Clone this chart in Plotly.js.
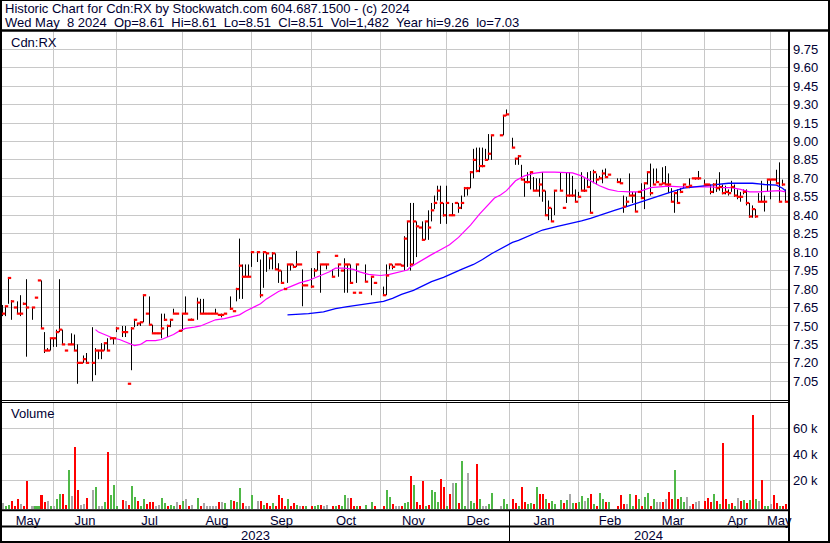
<!DOCTYPE html>
<html><head><meta charset="utf-8">
<script src="https://cdn.plot.ly/plotly-3.0.1.min.js"></script>
<style>html,body{margin:0;padding:0;background:#fff;}#chart{width:830px;height:543px;}</style>
</head><body><div id="chart"></div>
<script>
// ---------- DATA ----------
const startDate = '2023-05-09';
const endDate = '2024-05-08';
const monthNames = ['May','Jun','Jul','Aug','Sep','Oct','Nov','Dec','Jan','Feb','Mar','Apr','May'];
const yearLabels = ['2023','2024'];
const priceTickFirst = 7.05, priceTickLast = 9.75, priceTickStep = 0.15;
const volTicks = [20000, 40000, 60000];
const volTickText = ['20 k', '40 k', '60 k'];

const high = [
7.67,7.66,7.89,7.71,7.65,7.70,7.75,7.69,7.88,null,
7.65,7.73,7.87,7.87,7.45,7.32,7.40,7.40,7.47,7.88,
7.47,7.30,7.35,7.44,7.43,7.35,7.20,7.26,7.28,null,
7.49,7.32,7.30,7.36,7.36,7.40,7.40,7.40,7.49,null,
7.50,7.50,7.03,7.49,7.55,7.52,7.53,7.75,7.60,7.74,
7.51,7.44,7.44,7.60,7.60,7.51,7.55,7.64,7.60,7.46,
7.60,7.74,7.55,7.56,null,7.73,7.72,7.72,7.60,7.60,
7.60,7.64,7.59,7.60,7.60,null,7.74,7.62,7.81,8.21,
8.00,8.00,8.00,8.10,null,8.10,8.04,8.10,8.10,8.05,
8.10,8.09,8.01,7.95,7.81,8.00,8.00,8.00,8.11,8.00,
7.96,7.83,null,7.97,7.97,8.10,8.00,8.00,8.00,null,
7.96,8.07,8.00,7.95,8.05,8.00,8.00,7.77,8.00,7.77,
null,8.00,null,7.90,7.85,null,null,7.82,8.00,8.00,
8.00,8.00,8.00,8.00,8.23,8.35,8.50,8.50,8.35,8.30,
8.35,8.35,8.44,8.50,8.56,8.64,8.64,8.50,8.64,8.40,
8.50,8.50,8.50,8.56,8.63,8.63,8.76,8.94,8.95,8.95,
8.95,8.94,9.06,9.05,null,null,9.05,9.21,9.26,null,
9.03,8.86,8.89,8.81,8.70,8.75,8.75,8.71,8.70,8.70,
8.75,8.60,8.52,8.46,8.60,null,8.75,8.46,8.75,8.75,
8.72,8.61,8.59,8.75,8.70,8.75,8.76,8.77,8.74,8.72,
8.77,8.78,8.73,null,null,8.70,8.70,8.56,8.55,8.74,
8.59,8.59,8.59,8.66,8.66,8.75,8.82,8.78,8.78,8.65,
8.79,8.80,8.74,8.62,8.59,8.61,8.62,8.65,8.63,8.70,
8.70,8.70,8.76,null,8.69,8.65,8.65,8.66,8.69,8.75,
8.65,8.64,8.61,8.68,8.65,8.61,8.59,8.61,8.61,8.50,
8.48,8.45,8.58,8.68,8.56,8.69,8.69,8.69,8.77,8.83,8.69,8.61];

const low = [
7.58,7.58,7.68,7.55,7.65,7.60,7.58,7.67,7.25,null,
7.55,7.73,7.87,7.48,7.28,7.30,7.30,7.33,7.33,7.45,
7.35,7.30,7.35,7.35,7.30,7.03,7.20,7.20,7.20,null,
7.05,7.10,7.23,7.23,7.30,7.30,7.39,7.35,7.45,null,
7.41,7.41,7.03,7.14,7.49,7.50,7.50,7.53,7.60,7.51,
7.44,7.44,7.44,7.40,7.54,7.41,7.49,7.60,7.60,7.46,
7.46,7.60,7.55,7.55,null,7.55,7.60,7.60,7.60,7.60,
7.60,7.60,7.59,7.57,7.60,null,7.63,7.62,7.70,7.72,
7.72,7.90,7.90,7.98,null,8.02,7.73,7.81,7.94,7.96,
7.96,7.96,7.85,7.85,7.80,7.85,7.95,7.97,7.98,8.00,
7.66,7.83,null,7.81,7.90,7.95,7.77,8.00,7.96,null,
7.90,8.07,7.90,7.95,7.77,7.77,7.85,7.77,7.85,7.77,
null,7.86,null,7.75,7.85,null,null,7.75,7.75,7.96,
7.96,8.00,8.00,7.99,7.95,7.98,7.95,8.00,8.06,8.30,
8.20,8.20,8.20,8.35,8.45,8.52,8.33,8.39,8.33,8.40,
8.40,8.50,8.42,8.45,8.55,8.56,8.62,8.70,8.75,8.75,
8.79,8.85,8.85,8.85,null,null,9.05,9.05,9.21,null,
8.95,8.81,8.81,8.69,8.55,8.66,8.61,8.60,8.60,8.55,
8.51,8.40,8.36,8.35,8.40,null,8.60,8.46,8.50,8.55,
8.55,8.51,8.55,8.60,8.59,8.63,8.42,8.66,8.65,8.70,
8.66,8.71,8.73,null,null,8.67,8.66,8.42,8.47,8.56,
8.50,8.43,8.59,8.54,8.45,8.65,8.56,8.65,8.67,8.65,
8.65,8.65,8.58,8.51,8.42,8.50,8.58,8.62,8.63,8.62,
8.70,8.69,8.69,null,8.64,8.65,8.57,8.58,8.59,8.60,
8.57,8.57,8.56,8.59,8.55,8.53,8.51,8.57,8.48,8.38,
8.38,8.38,8.51,8.51,8.43,8.59,8.53,8.69,8.66,8.51,8.64,8.51];

const close = [
7.60,7.66,7.89,7.70,7.65,7.60,7.60,7.68,7.65,null,
7.65,7.73,7.87,7.48,7.30,7.30,7.40,7.40,7.45,7.47,
7.35,7.30,7.35,7.35,7.30,7.20,7.20,7.23,7.20,null,
7.20,7.30,7.30,7.30,7.36,7.30,7.40,7.40,7.48,null,
7.45,7.45,7.03,7.48,7.55,7.52,7.53,7.75,7.60,7.51,
7.44,7.44,7.44,7.48,7.55,7.50,7.55,7.60,7.60,7.46,
7.60,7.60,7.55,7.55,null,7.69,7.60,7.60,7.60,7.60,
7.60,7.60,7.59,7.59,7.60,null,7.64,7.62,7.80,7.99,
7.90,7.90,7.90,8.10,null,8.10,7.75,8.10,8.09,8.05,
8.09,7.96,7.95,7.85,7.80,8.00,8.00,7.98,8.00,8.00,
7.83,7.83,null,7.82,7.95,8.10,8.00,8.00,8.00,null,
7.90,8.07,8.00,7.95,8.00,8.00,7.85,7.77,8.00,7.77,
null,7.86,null,7.90,7.85,null,null,7.75,7.91,8.00,
7.98,8.00,8.00,7.99,8.21,8.35,8.00,8.35,8.31,8.30,
8.20,8.35,8.30,8.44,8.50,8.60,8.50,8.40,8.50,8.40,
8.40,8.50,8.46,8.50,8.62,8.62,8.75,8.85,8.76,8.80,
8.80,8.85,8.90,9.05,null,null,9.05,9.21,9.22,null,
8.95,8.86,8.88,8.69,8.67,8.67,8.75,8.60,8.60,8.65,
8.60,8.40,8.46,8.35,8.60,null,8.60,8.46,8.56,8.56,
8.56,8.51,8.55,8.60,8.60,8.63,8.42,8.75,8.69,8.70,
8.74,8.71,8.73,null,null,8.67,8.66,8.47,8.51,8.56,
8.56,8.43,8.59,8.54,8.66,8.75,8.58,8.65,8.67,8.65,
8.66,8.65,8.65,8.51,8.58,8.50,8.59,8.65,8.63,8.64,
8.70,8.70,8.70,null,8.65,8.65,8.59,8.65,8.62,8.63,
8.58,8.59,8.58,8.63,8.56,8.55,8.55,8.59,8.50,8.39,
8.45,8.39,8.51,8.51,8.51,8.69,8.69,8.69,8.66,8.51,8.65,8.51];

const volume = [
2300,500,1000,4000,500,5600,1800,300,19500,null,
300,300,300,8700,3300,4100,300,300,5600,9500,
9500,1000,28000,8000,45600,12600,1000,1500,6400,null,
12600,14600,300,300,3300,41800,8700,16400,300,null,
4900,4100,1000,15600,7200,4100,300,5600,1800,3300,
3300,300,1000,6400,2600,300,1000,300,3300,1000,
4100,5600,300,1000,null,6400,300,2600,300,300,
300,300,3300,3300,2600,null,4900,4100,3300,14100,
2300,300,300,8700,null,4100,4100,1000,2600,300,
2600,300,8700,6400,300,5600,300,2600,1000,300,
300,300,null,300,300,1000,1000,300,1000,null,
300,300,1000,300,8700,6400,6400,300,300,300,
null,1000,null,3300,300,null,null,300,12600,7400,
1800,300,300,300,2600,3300,23300,16400,3300,1000,
19500,300,1000,12600,11000,3300,21000,14900,300,9500,
18000,18000,2600,34900,300,25600,4100,2600,32600,5600,
300,300,1800,10300,null,null,300,5600,1800,null,
5600,2600,300,14900,3300,1800,2600,1800,14900,9500,
9500,5600,2600,4100,2000,null,4900,2600,4900,9500,
2600,2600,3300,8000,4100,6400,9500,1800,300,10300,
5600,3300,3300,null,null,300,8700,1800,1800,9500,
300,8700,5600,300,7200,10300,300,5600,3300,3300,
3300,5600,11000,5600,28000,5600,7200,3300,7200,300,
1800,3300,4100,null,4100,6400,3300,9500,4100,1800,
48700,5600,1800,2600,300,6400,4100,4900,2600,4900,
70000,5600,4100,20000,300,300,1800,8700,2600,300,300,1482];

// day direction of each volume bar: u = up (green), d = down (red), n = unchanged (grey), . = no trade
const volDir = [
'nuudddndd.','nuuddnunuu','ddunddnnd.','nunnuduuu.','dnduuduudd',
'dnnuuduund','undn.udnnn','nndnu.uduu','dnnu.ndudd','udddduddun',
'du.duudnn.','duduunddud','.u.ud..duu','dnnduududd','duduuuddud',
'nuduunuudu','nnuu..nuu.','ddudduudud','duduu.udun','uduunududu',
'udu..dddnu','ududuudunn','dndduduunn','dnn.dddudu','ddudundudu',
'dunduunddudd'].join('');

const pinkIdx = [31,32,35,37,39,41,43,44,46,48,51,53,55,57,59,61,64,66,68,71,74,77,79,81,84,86,88,90,92,96,99,102,106,109,111,114,117,119,122,126,129,131,135,136,138,141,143,146,149,152,156,159,162,164,166,168,171,174,177,180,184,187,190,193,196,199,202,205,209,212,216,219,222,226,230,233,236,240,243,246,249,252,256,259,261];
const pinkVal = [7.47,7.45,7.42,7.40,7.39,7.37,7.35,7.34,7.35,7.38,7.38,7.39,7.41,7.43,7.46,7.48,7.49,7.50,7.52,7.55,7.56,7.58,7.59,7.62,7.66,7.68,7.72,7.75,7.78,7.82,7.85,7.87,7.91,7.94,7.97,7.97,7.96,7.94,7.92,7.91,7.92,7.93,7.955,7.98,8.01,8.05,8.08,8.12,8.16,8.22,8.32,8.41,8.49,8.54,8.565,8.60,8.68,8.72,8.74,8.75,8.75,8.75,8.745,8.72,8.68,8.64,8.61,8.595,8.59,8.59,8.625,8.63,8.637,8.63,8.63,8.635,8.63,8.625,8.625,8.61,8.59,8.59,8.595,8.60,8.59];
const blueIdx = [95,98,102,107,111,115,119,123,127,130,133,137,140,143,147,150,153,157,160,163,167,170,172,176,180,185,189,193,196,200,204,208,214,219,223,227,231,236,242,250,254,258,260,261];
const blueVal = [7.59,7.594,7.60,7.615,7.64,7.657,7.67,7.684,7.70,7.725,7.757,7.79,7.825,7.86,7.895,7.93,7.96,8.00,8.04,8.087,8.14,8.18,8.195,8.24,8.28,8.31,8.33,8.355,8.375,8.41,8.44,8.47,8.52,8.56,8.59,8.62,8.633,8.645,8.66,8.66,8.65,8.645,8.62,8.60];

// ---------- BUILD ----------
const dates = [];
{
  const d = new Date(startDate + 'T00:00:00Z'), end = new Date(endDate + 'T00:00:00Z');
  while (d <= end) { const w = d.getUTCDay(); if (w !== 0 && w !== 6) dates.push(new Date(d)); d.setUTCDate(d.getUTCDate() + 1); }
}
const N = dates.length;
const idx = dates.map((_, i) => i);

// month boundaries: last weekday on or before the 1st of each month
const bounds = [];
{
  let y = 2023, m = 5;
  for (let k = 0; k < 12; k++) {
    const first = new Date(Date.UTC(y, m, 1));
    let b = -1; for (let i = 0; i < N; i++) if (dates[i] <= first) b = i;
    bounds.push(b);
    m++; if (m > 11) { m = 0; y++; }
  }
}
const xMin = -0.5/3, xMax = (786 - 0.5)/3;
const edges = [0].concat(bounds).concat([xMax]);
const mids = [];
for (let k = 0; k < edges.length - 1; k++) mids.push((edges[k] + edges[k+1]) / 2);
const yearBound = bounds[7];

const priceTicks = [];
for (let v = priceTickFirst; v <= priceTickLast + 1e-9; v += priceTickStep) priceTicks.push(+v.toFixed(2));

const hlX = [], hlY = [];
idx.forEach(i => { if (high[i] != null && high[i] > low[i]) { hlX.push(i, i, null); hlY.push(low[i], high[i], null); } });
const cX = [], cY = [];
idx.forEach(i => { if (close[i] != null) { cX.push(i + 1/3); cY.push(close[i]); } });

const dirColor = {u:'#4fb847', d:'#ff0000', n:'#a8a8a8', '.':'rgba(0,0,0,0)'};
const vCols = idx.map(i => dirColor[volDir[i]] || '#a8a8a8');

const L = 2, R = 42, T = 32, B = 34, W = 830, H = 543;
const PW = W - L - R, PH = H - T - B;
const P = x => (x - L) / PW;           // pixel -> paper x
const Q = y => (H - B - y) / PH;       // pixel -> paper y
const txt = '#000033';
const FONT = 'Liberation Sans, Arial, sans-serif';
const VBASE = -2077;

const traces = [
  {type:'scatter', mode:'lines', x:hlX, y:hlY, xaxis:'x', yaxis:'y', line:{color:'#000000', width:1}, hoverinfo:'skip', connectgaps:false},
  {type:'scatter', mode:'lines', x:pinkIdx, y:pinkVal, xaxis:'x', yaxis:'y', line:{color:'#ff00ff', width:1.2}, hoverinfo:'skip'},
  {type:'scatter', mode:'lines', x:blueIdx, y:blueVal, xaxis:'x', yaxis:'y', line:{color:'#0000ff', width:1.3}, hoverinfo:'skip'},
  {type:'scatter', mode:'markers', x:cX, y:cY, xaxis:'x', yaxis:'y', marker:{symbol:'line-ew', size:2.4, line:{color:'#ff0000', width:2.2}}, hoverinfo:'skip'},
  {type:'bar', x:idx, y:volume.map(v => v == null ? null : v - VBASE), base:VBASE, xaxis:'x2', yaxis:'y2', width:0.67, marker:{color:vCols, line:{width:0}}, hoverinfo:'skip'}
];

const grid = '#c8c8c8';
const line = (x0,y0,x1,y1,w) => ({type:'line', xref:'paper', yref:'paper', x0:P(x0), y0:Q(y0), x1:P(x1), y1:Q(y1), line:{color:'#000', width:w}, layer:'above'});

const layout = {
  width: W, height: H, margin:{l:L, r:R, t:T, b:B, pad:0},
  paper_bgcolor:'#fff', plot_bgcolor:'#fff', showlegend:false,
  font:{family:FONT, size:13, color:txt},
  xaxis:{domain:[0,1], anchor:'y', range:[xMin,xMax], tickmode:'array', tickvals:bounds, showticklabels:false, ticks:'', showgrid:true, gridcolor:grid, gridwidth:1, zeroline:false, showline:false, fixedrange:true},
  yaxis:{domain:[Q(400),1], anchor:'x', side:'right', range:[6.898, 9.8898], tickmode:'array', tickvals:priceTicks, ticktext:priceTicks.map(v => v.toFixed(2)), ticks:'', ticklabelstandoff:4, showgrid:true, gridcolor:grid, gridwidth:1, zeroline:false, showline:false, tickfont:{size:13, color:txt, family:FONT}},
  xaxis2:{domain:[0,1], anchor:'y2', range:[xMin,xMax], tickmode:'array', tickvals:mids, ticktext:monthNames, ticks:'', showgrid:false, zeroline:false, showline:false,
          minor:{tickmode:'array', tickvals:bounds, showgrid:true, gridcolor:grid, gridwidth:1, ticks:''}, tickfont:{size:13, color:txt, family:FONT}, ticklabelstandoff:2},
  yaxis2:{domain:[0,Q(403)], anchor:'x2', side:'right', range:[VBASE, 79462], tickmode:'array', tickvals:volTicks, ticktext:volTickText, ticks:'', ticklabelstandoff:4, showgrid:true, gridcolor:grid, gridwidth:1, zeroline:false, showline:false, tickfont:{size:13, color:txt, family:FONT}},
  bargap:0,
  annotations:[
    {xref:'paper', yref:'paper', x:P(3), y:Q(8), xanchor:'left', yanchor:'middle', showarrow:false, text:'Historic Chart for Cdn:RX by Stockwatch.com 604.687.1500 - (c) 2024', font:{size:13, color:txt}},
    {xref:'paper', yref:'paper', x:P(3), y:Q(22.5), xanchor:'left', yanchor:'middle', showarrow:false, text:'Wed May\u00a0\u00a08 2024\u00a0\u00a0Op=8.61\u00a0\u00a0Hi=8.61\u00a0\u00a0Lo=8.51\u00a0\u00a0Cl=8.51\u00a0\u00a0Vol=1,482\u00a0\u00a0Year hi=9.26\u00a0\u00a0lo=7.03', font:{size:13, color:txt}},
    {xref:'paper', yref:'paper', x:P(9), y:Q(43), xanchor:'left', yanchor:'middle', showarrow:false, text:'Cdn:RX', font:{size:13, color:txt}},
    {xref:'paper', yref:'paper', x:P(9), y:Q(413.5), xanchor:'left', yanchor:'middle', showarrow:false, text:'Volume', font:{size:13, color:txt}},
    {xref:'x2', yref:'paper', x:(xMin + yearBound)/2, y:Q(535), xanchor:'center', yanchor:'middle', showarrow:false, text:yearLabels[0], font:{size:13, color:txt}},
    {xref:'x2', yref:'paper', x:(yearBound + xMax)/2, y:Q(535), xanchor:'center', yanchor:'middle', showarrow:false, text:yearLabels[1], font:{size:13, color:txt}}
  ],
  shapes:[
    line(0,0.5,830,0.5,1),
    line(1,0,1,543,2),
    line(829,0,829,543,2),
    line(0,542,830,542,2),
    line(0,30.5,830,30.5,2.4),
    line(0,400.5,789,400.5,1),
    line(0,402.5,789,402.5,1),
    line(0,510.3,789,510.3,2),
    line(0,526.5,789,526.5,2),
    line(789,30,789,543,2),
    {type:'line', xref:'x2', yref:'paper', x0:yearBound, x1:yearBound, y0:Q(511), y1:Q(541), line:{color:'#000', width:1}, layer:'above'}
  ]
};

Plotly.newPlot('chart', traces, layout, {staticPlot:true, displayModeBar:false});
</script>
</body></html>
